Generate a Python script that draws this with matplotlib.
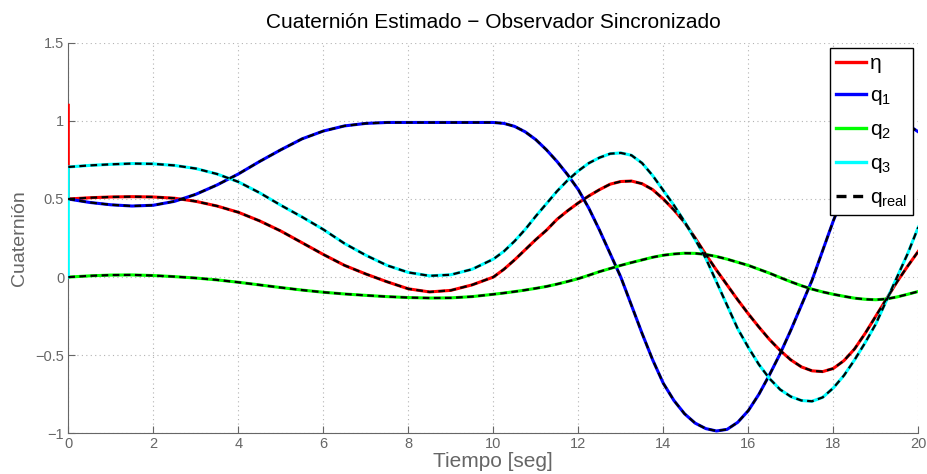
import numpy as np
import matplotlib.pyplot as plt

plt.rcParams['font.family'] = ['Liberation Sans', 'DejaVu Sans']
plt.rcParams['mathtext.fontset'] = 'custom'
plt.rcParams['mathtext.rm'] = 'Liberation Sans'
plt.rcParams['mathtext.it'] = 'Liberation Sans:italic'

# - - - time samples [s]
t = np.r_[np.arange(0.0, 10.0, 0.5), np.arange(10.0, 20.01, 0.25)]

# - - - real quaternion components
eta_real = [0.50, 0.508, 0.513, 0.515, 0.513, 0.505, 0.485, 0.455, 0.415, 0.36,
            0.295, 0.22, 0.145, 0.075, 0.02, -0.03, -0.075, -0.095, -0.085, -0.05,
            0.0, 0.05, 0.11, 0.175,
            0.24, 0.30, 0.37, 0.425, 0.475, 0.52, 0.56, 0.595, 0.612, 0.615,
            0.598, 0.56, 0.50, 0.43, 0.35, 0.25, 0.145, 0.045, -0.05, -0.145,
            -0.235, -0.32, -0.40, -0.47, -0.53, -0.575, -0.60, -0.605, -0.585, -0.535,
            -0.46, -0.36, -0.25, -0.14, -0.03, 0.07, 0.165]
q1_real = [0.50, 0.478, 0.463, 0.455, 0.46, 0.485, 0.53, 0.59, 0.66, 0.74,
           0.815, 0.885, 0.935, 0.968, 0.984, 0.99, 0.99, 0.99, 0.99, 0.99,
           0.99, 0.984, 0.965, 0.93,
           0.88, 0.815, 0.74, 0.655, 0.56, 0.44, 0.30, 0.15, 0.0, -0.18,
           -0.36, -0.53, -0.68, -0.79, -0.875, -0.935, -0.97, -0.985, -0.975, -0.93,
           -0.855, -0.75, -0.625, -0.49, -0.34, -0.18, -0.02, 0.17, 0.36, 0.53,
           0.68, 0.80, 0.89, 0.95, 0.985, 0.975, 0.93]
q2_real = [0.0, 0.008, 0.013, 0.014, 0.01, 0.003, -0.006, -0.018, -0.033, -0.05,
           -0.067, -0.083, -0.097, -0.108, -0.117, -0.125, -0.131, -0.134, -0.133, -0.125,
           -0.11, -0.102, -0.093, -0.083,
           -0.072, -0.06, -0.045, -0.028, -0.01, 0.012, 0.035, 0.055, 0.075, 0.093,
           0.11, 0.127, 0.14, 0.148, 0.153, 0.152, 0.145, 0.132, 0.115, 0.095,
           0.075, 0.05, 0.025, -0.003, -0.03, -0.055, -0.077, -0.095, -0.11, -0.123,
           -0.135, -0.142, -0.145, -0.14, -0.127, -0.11, -0.092]
q3_real = [0.705, 0.715, 0.722, 0.727, 0.725, 0.715, 0.695, 0.66, 0.61, 0.54,
           0.46, 0.385, 0.305, 0.215, 0.14, 0.075, 0.03, 0.008, 0.015, 0.05,
           0.115, 0.165, 0.23, 0.305,
           0.39, 0.47, 0.55, 0.62, 0.68, 0.73, 0.765, 0.79, 0.795, 0.78,
           0.73, 0.65, 0.555, 0.46, 0.355, 0.24, 0.12, -0.03, -0.18, -0.33,
           -0.45, -0.56, -0.65, -0.72, -0.765, -0.79, -0.795, -0.77, -0.71, -0.63,
           -0.53, -0.42, -0.30, -0.15, 0.0, 0.15, 0.32]

# - - - observer initial conditions (estimate before convergence)
eta_est0 = 1.1
q1_est0 = 0.5
q2_est0 = 0.0
q3_est0 = 0.0

t_est = np.r_[0.0, t]
eta_est = np.r_[eta_est0, eta_real]
q1_est = np.r_[q1_est0, q1_real]
q2_est = np.r_[q2_est0, q2_real]
q3_est = np.r_[q3_est0, q3_real]

# - - - figure
fig = plt.figure(figsize=(9.28, 4.74), dpi=100)
ax = fig.add_axes([68.3/928, 1 - 433.3/474, 850/928, 390.5/474])

lw = 2.2
ax.plot(t_est, eta_est, color=(1, 0, 0), lw=lw, zorder=3, label='η')
ax.plot(t_est, q1_est, color=(0, 0, 1), lw=lw, zorder=3, label='q$_{\\rm 1}$')
ax.plot(t_est, q2_est, color=(0, 1, 0), lw=lw, zorder=3, label='q$_{\\rm 2}$')
ax.plot(t_est, q3_est, color=(0, 1, 1), lw=lw, zorder=3, label='q$_{\\rm 3}$')
for i, q in enumerate([eta_real, q1_real, q2_real, q3_real]):
    ax.plot(t, q, color='k', lw=1.6, ls=(0, (3, 2)), zorder=4,
            label='q$_{\\rm real}$' if i == 0 else None)

gray = (0.4, 0.4, 0.4)
ax.set_xlim(0, 20)
ax.set_ylim(-1, 1.5)
ax.set_xticks(np.arange(0, 21, 2))
ax.set_yticks([-1, -0.5, 0, 0.5, 1, 1.5])
ax.set_yticklabels(['−1', '−0.5', '0', '0.5', '1', '1.5'])
ax.grid(True, ls=(0, (1, 3)), color=(0.7, 0.7, 0.7), lw=0.8)
ax.tick_params(direction='in', length=5, width=0.8, color=gray,
               labelcolor=gray, labelsize=10.5, pad=3)
for side in ['top', 'right']:
    ax.spines[side].set_visible(False)
for side in ['left', 'bottom']:
    ax.spines[side].set_color(gray)
    ax.spines[side].set_linewidth(0.8)

ax.set_title('Cuaternión Estimado − Observador Sincronizado', fontsize=15, pad=11)
ax.set_xlabel('Tiempo [seg]', fontsize=15, color=gray, labelpad=0.5)
ax.set_ylabel('Cuaternión', fontsize=14, color=gray, labelpad=5)

leg = ax.legend(loc='upper right', fontsize=15, fancybox=False, framealpha=1,
                edgecolor='k', handlelength=1.45, handletextpad=0.15,
                labelspacing=0.62, borderaxespad=0.25, borderpad=0.3)
leg.get_frame().set_linewidth(1.0)
for line in leg.get_lines():
    line.set_linewidth(2.4)

plt.savefig('out.png', dpi=100)
